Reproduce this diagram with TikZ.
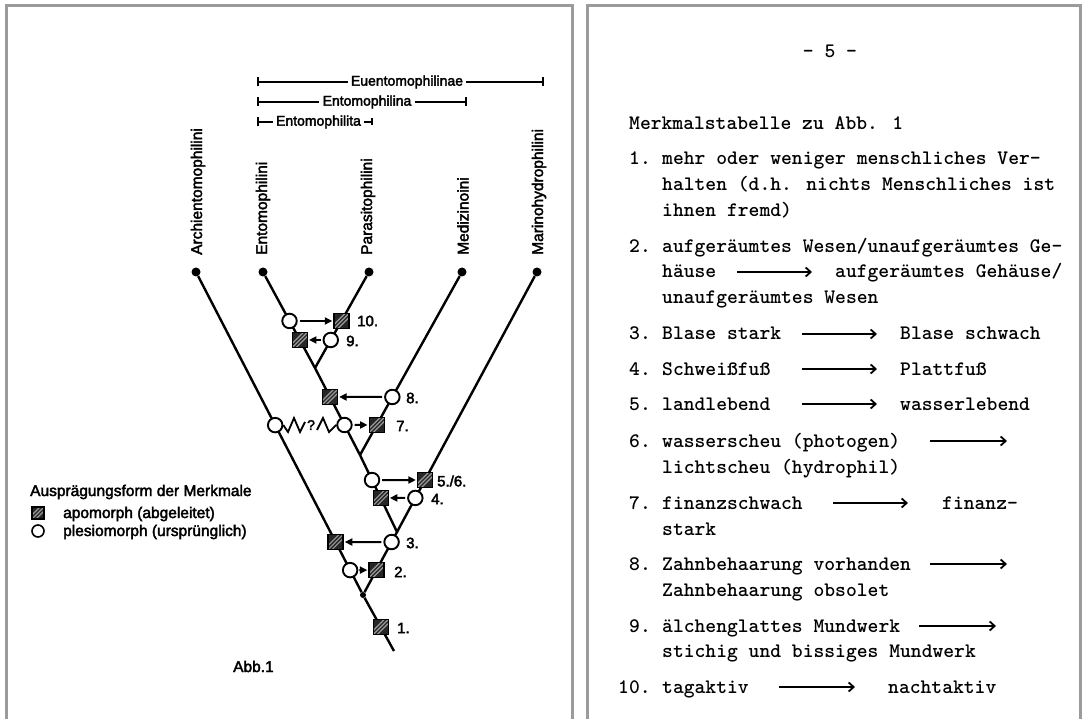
\documentclass[tikz,border=0pt]{standalone}
\usepackage{fontspec}
\setmainfont{Liberation Sans}
\newfontfamily\dinfont{Liberation Sans}[FakeBold=2.6]
\newcommand\twfont{\ttfamily\bfseries}
\usetikzlibrary{arrows.meta,calc}
\definecolor{framegray}{HTML}{9B9B9B}
\begin{document}
\begin{tikzpicture}[x=1pt,y=-1pt,
  frame/.style={draw=framegray,line width=3pt},
  tree/.style={line width=2.4pt,black},
  tipdot/.style={circle,fill=black,minimum size=9pt,inner sep=0pt},
  rootdot/.style={circle,fill=black,minimum size=6pt,inner sep=0pt},
  plesio/.style={circle,draw=black,line width=1.9pt,fill=white,minimum size=14.5pt,inner sep=0pt},
  apo/.style={rectangle,draw=black,line width=1.3pt,fill=black!85,minimum size=15pt,inner sep=0pt,
    path picture={\draw[black!40,line width=1.2pt,shift={(path picture bounding box.center)}]
      (-10pt,-14pt)--(10pt,6pt) (-10pt,-10pt)--(10pt,10pt) (-10pt,-6pt)--(10pt,14pt);}},
  chararrow/.style={line width=2pt,-{Triangle[length=7.5pt,width=7pt]},shorten <=2pt,shorten >=1pt},
  num/.style={anchor=west,inner sep=0pt,font=\dinfont\fontsize{15}{15}\selectfont},
  taxon/.style={rotate=90,anchor=west,inner sep=0pt,font=\dinfont\fontsize{15.5}{15.5}\selectfont},
  grp/.style={inner sep=3pt,font=\dinfont\fontsize{14}{14}\selectfont},
  bracket/.style={line width=2.2pt},
  legendtext/.style={anchor=base west,inner sep=0pt,font=\dinfont\fontsize{15.5}{15.5}\selectfont},
  tw/.style={anchor=base west,inner sep=0pt,font=\twfont\fontsize{20.6}{20.6}\selectfont},
  twarrow/.style={line width=1.5pt,-{Straight Barb[length=5pt,width=9pt,line width=1.8pt]}}
]
\useasboundingbox (0,0) rectangle (1087,719);
\fill[white] (0,0) rectangle (1087,719);
% panel frames
\draw[frame] (6,719) -- (6,5.5) -- (572,5.5) -- (572,719);
\draw[frame] (587,719) -- (587,5.5) -- (1080,5.5) -- (1080,719);

% ---------------- group brackets
\node[grp] (eu) at (407,82) {Euentomophilinae};
\coordinate (euL) at (257,82); \coordinate (euR) at (544,82);
\draw[bracket,{Bar[width=9pt]}-] (euL) -- (eu.west);
\draw[bracket,-{Bar[width=9pt]}] (eu.east) -- (euR);
\node[grp] (ena) at (367,102) {Entomophilina};
\coordinate (enaL) at (257,102); \coordinate (enaR) at (467,102);
\draw[bracket,{Bar[width=9pt]}-] (enaL) -- (ena.west);
\draw[bracket,-{Bar[width=9pt]}] (ena.east) -- (enaR);
\node[grp] (ent) at (318.5,122) {Entomophilita};
\coordinate (entL) at (257,122); \coordinate (entR) at (373,122);
\draw[bracket,{Bar[width=9pt]}-] (entL) -- (ent.west);
\draw[bracket,-{Bar[width=7pt]}] (ent.east) -- (entR);

% ---------------- taxa
\node[tipdot] (A) at (196,272) {};
\node[tipdot] (E) at (263,272) {};
\node[tipdot] (P) at (369,272) {};
\node[tipdot] (M) at (462,272) {};
\node[tipdot] (H) at (537,272) {};
\node[taxon] (tA) at (198,255) {Archientomophilini};
\node[taxon] (tE) at (263,255) {Entomophilini};
\node[taxon] (tP) at (368,255) {Parasitophilini};
\node[taxon] (tM) at (463,255) {Medizinoini};
\node[taxon] (tH) at (539,255) {Marinohydrophilini};

% ---------------- tree
\coordinate (J1) at (315,368);
\coordinate (J2) at (360,455);
\coordinate (J3) at (397,532);
\node[rootdot] (J4) at (363,595) {};
\coordinate (B) at (394,651);
\draw[tree] (A) -- (J4) -- (B);
\draw[tree] (E) -- (J1) -- (J2) -- (J3) -- (J4);
\draw[tree] (P) -- (J1);
\draw[tree] (M) -- (J2);
\draw[tree] (H) -- (J3);

% ---------------- characters
\node[plesio] (c10) at ($(E)!0.510!(J1)$) {};
\node[apo]    (s10) at ($(P)!0.510!(J1)$) {};
\node[apo]    (s9)  at ($(E)!0.708!(J1)$) {};
\node[plesio] (c9)  at ($(P)!0.708!(J1)$) {};
\node[apo]    (s8)  at ($(J1)!0.333!(J2)$) {};
\node[plesio] (c8)  at ($(M)!0.683!(J2)$) {};
\node[plesio] (c7)  at ($(J1)!0.655!(J2)$) {};
\node[apo]    (s7)  at ($(M)!0.836!(J2)$) {};
\node[plesio] (cz)  at ($(A)!0.474!(J4)$) {};
\node[plesio] (c56) at ($(J2)!0.325!(J3)$) {};
\node[apo]    (s56) at ($(H)!0.800!(J3)$) {};
\node[apo]    (s4)  at ($(J2)!0.558!(J3)$) {};
\node[plesio] (c4)  at ($(H)!0.869!(J3)$) {};
\node[plesio] (c3)  at ($(J3)!0.159!(J4)$) {};
\node[apo]    (s3)  at ($(A)!0.836!(J4)$) {};
\node[plesio] (c2)  at ($(A)!0.923!(J4)$) {};
\node[apo]    (s2)  at ($(J3)!0.603!(J4)$) {};
\node[apo]    (s1)  at ($(J4)!0.571!(B)$) {};

\draw[chararrow] (c10) -- (s10);
\draw[chararrow] (c9) -- (s9);
\draw[chararrow] (c8) -- (s8);
\draw[chararrow] (c7) -- (s7);
\draw[chararrow] (c56) -- (s56);
\draw[chararrow] (c4) -- (s4);
\draw[chararrow] (c3) -- (s3);
\draw[chararrow,shorten <=1pt] (c2) -- (s2);

% zigzag with question mark
\node[inner sep=0pt,font=\dinfont\fontsize{14}{14}\selectfont] (q) at (311,425) {?};
\draw[line width=1.8pt,line join=miter] (cz.east) -- (288,432) -- (294,418) -- (300,432) -- (305,422);
\draw[line width=1.8pt,line join=miter] (317,430) -- (323,418) -- (329,432) -- (c7.west);

\node[num] (n10) at (357,321) {10.};
\node[num] (n9)  at (346,341) {9.};
\node[num] (n8)  at (406,398) {8.};
\node[num] (n7)  at (396,426) {7.};
\node[num] (n56) at (437,481) {5./6.};
\node[num] (n4)  at (431,499) {4.};
\node[num] (n3)  at (406,543) {3.};
\node[num] (n2)  at (394,572) {2.};
\node[num] (n1)  at (397,628) {1.};

% ---------------- legend
\node[legendtext] (lgh) at (30,496) {Ausprägungsform der Merkmale};
\node[apo,minimum size=12pt] (lgs) at (38,513) {};
\node[legendtext] (lga) at (63,518) {apomorph (abgeleitet)};
\node[plesio,minimum size=12pt,line width=1.6pt] (lgc) at (38,531) {};
\node[legendtext] (lgp) at (63,536) {plesiomorph (ursprünglich)};
\node[legendtext] (abb) at (233,672) {Abb.1};

% ---------------- right page
\node[tw,anchor=base] (pg) at (830,58) {- 5 -};
\node[tw] (ttl) at (629,130) {Merkmalstabelle zu Abb. 1};

\node[tw] (k1) at (629,165) {1.};
\node[tw] (k1a) at (662,165) {mehr oder weniger menschliches Ver-};
\node[tw] (k1b) at (662,191) {halten (d.h. nichts Menschliches ist};
\node[tw] (k1c) at (662,217) {ihnen fremd)};

\node[tw] (k2) at (629,253) {2.};
\node[tw] (k2a) at (662,253) {aufgeräumtes Wesen/unaufgeräumtes Ge-};
\node[tw] (k2b) at (662,278) {häuse};
\node[tw] (k2c) at (835,278) {aufgeräumtes Gehäuse/};
\node[tw] (k2d) at (662,304) {unaufgeräumtes Wesen};
\coordinate (a2s) at (737,272); \coordinate (a2e) at (812,272);
\draw[twarrow] (a2s) -- (a2e);

\node[tw] (k3) at (629,340) {3.};
\node[tw] (k3a) at (662,340) {Blase stark};
\node[tw] (k3b) at (900,340) {Blase schwach};
\coordinate (a3s) at (802,334); \coordinate (a3e) at (877,334);
\draw[twarrow] (a3s) -- (a3e);

\node[tw] (k4) at (629,375) {4.};
\node[tw] (k4a) at (662,375) {Schweißfuß};
\node[tw] (k4b) at (900,375) {Plattfuß};
\coordinate (a4s) at (802,369); \coordinate (a4e) at (877,369);
\draw[twarrow] (a4s) -- (a4e);

\node[tw] (k5) at (629,410) {5.};
\node[tw] (k5a) at (662,410) {landlebend};
\node[tw] (k5b) at (900,410) {wasserlebend};
\coordinate (a5s) at (802,404); \coordinate (a5e) at (877,404);
\draw[twarrow] (a5s) -- (a5e);

\node[tw] (k6) at (629,447) {6.};
\node[tw] (k6a) at (662,447) {wasserscheu (photogen)};
\node[tw] (k6b) at (662,473) {lichtscheu (hydrophil)};
\coordinate (a6s) at (930,441); \coordinate (a6e) at (1007,441);
\draw[twarrow] (a6s) -- (a6e);

\node[tw] (k7) at (629,509) {7.};
\node[tw] (k7a) at (662,509) {finanzschwach};
\node[tw] (k7b) at (942,509) {finanz-};
\node[tw] (k7c) at (662,535) {stark};
\coordinate (a7s) at (833,503); \coordinate (a7e) at (908,503);
\draw[twarrow] (a7s) -- (a7e);

\node[tw] (k8) at (629,570) {8.};
\node[tw] (k8a) at (662,570) {Zahnbehaarung vorhanden};
\node[tw] (k8b) at (662,596) {Zahnbehaarung obsolet};
\coordinate (a8s) at (930,564); \coordinate (a8e) at (1007,564);
\draw[twarrow] (a8s) -- (a8e);

\node[tw] (k9) at (629,632) {9.};
\node[tw] (k9a) at (662,632) {älchenglattes Mundwerk};
\node[tw] (k9b) at (662,657) {stichig und bissiges Mundwerk};
\coordinate (a9s) at (919,626); \coordinate (a9e) at (996,626);
\draw[twarrow] (a9s) -- (a9e);

\node[tw] (k10) at (618,693) {10.};
\node[tw] (k10a) at (662,693) {tagaktiv};
\node[tw] (k10b) at (888,693) {nachtaktiv};
\coordinate (a10s) at (779,687); \coordinate (a10e) at (855,687);
\draw[twarrow] (a10s) -- (a10e);
\end{tikzpicture}
\end{document}
